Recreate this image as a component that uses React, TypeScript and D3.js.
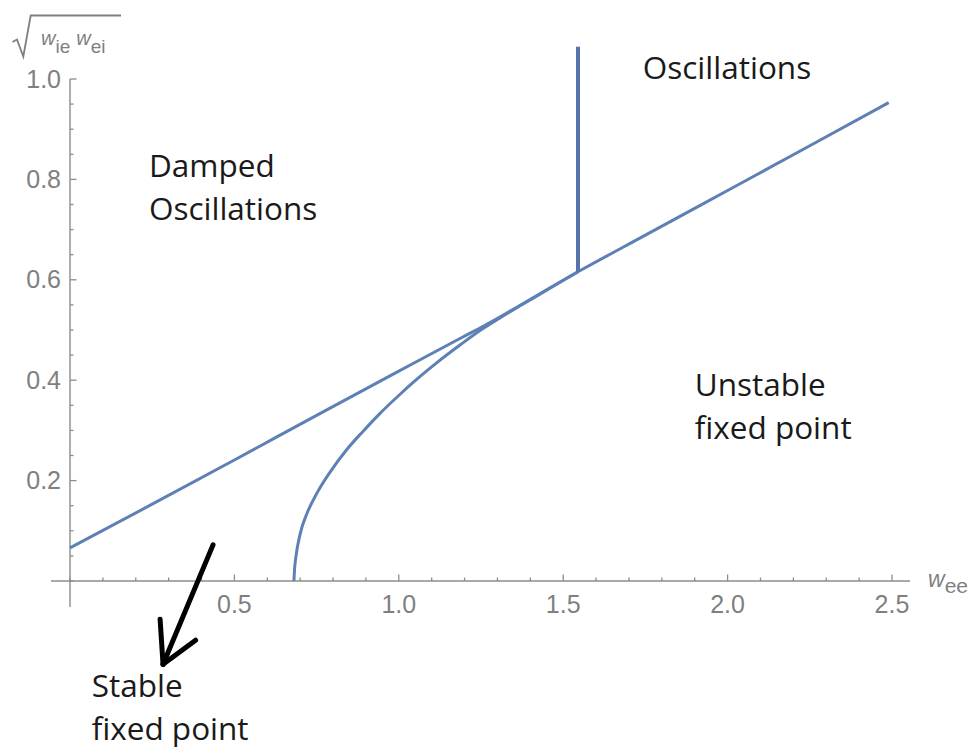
import React from "react";
import * as d3 from "d3";

// Upper boundary line (sqrt(wie*wei) vs wee)
const lineX = [0, 0.25, 0.5, 0.75, 1.0, 1.186, 1.247, 1.545, 1.75, 2.0, 2.25, 2.49];
const lineY = [0.066, 0.153, 0.241, 0.33, 0.418, 0.483, 0.504, 0.616, 0.689, 0.778, 0.867, 0.953];
// Lower curved boundary
const curveX = [0.681, 0.683, 0.687, 0.700, 0.721, 0.751, 0.791, 0.842, 0.891, 0.943, 1.004, 1.055, 1.116, 1.186, 1.247, 1.3, 1.35, 1.41, 1.47, 1.545];
const curveY = [0, 0.024, 0.048, 0.094, 0.135, 0.175, 0.217, 0.262, 0.298, 0.334, 0.372, 0.402, 0.435, 0.47, 0.499, 0.521, 0.541, 0.564, 0.587, 0.616];
// Vertical boundary
const vertX = [1.545, 1.545];
const vertY = [0.616, 1.064];

const xMajor = [0.5, 1.0, 1.5, 2.0, 2.5];
const xMinor = d3.range(0, 26).map((i) => i / 10);
const yMajor = [0.2, 0.4, 0.6, 0.8, 1.0];
const yMinor = d3.range(0, 21).map((i) => i / 20);

const regionLabels = [
  { lines: ["Oscillations"], x: 1.742, y: 1.0 },
  { lines: ["Damped", "Oscillations"], x: 0.24, y: 0.805 },
  { lines: ["Unstable", "fixed point"], x: 1.9, y: 0.3685 },
  { lines: ["Stable", "fixed point"], x: 0.066, y: -0.231 },
];

export default function App() {
  const x = d3.scaleLinear().domain([0, 2.5]).range([70, 892]);
  const y = d3.scaleLinear().domain([0, 1]).range([581, 79]);
  const blue = "#5E81B5";
  const axisC = "#8c8c8c";
  const tickC = "#7f7f7f";

  const lineGen = d3
    .line<[number, number]>()
    .x((d) => x(d[0]))
    .y((d) => y(d[1]))
    .curve(d3.curveMonotoneX);

  const upper = lineX.map((v, i) => [v, lineY[i]] as [number, number]);
  const lower = curveX.map((v, i) => [v, curveY[i]] as [number, number]);

  // arrow in data coordinates
  const tail = [0.435, 0.072];
  const tip = [0.283, -0.166];
  const headL = [0.274, -0.076];
  const headR = [0.382, -0.118];

  const textFont = "'Open Sans', 'Noto Sans', sans-serif";
  const sans = "'Liberation Sans', Arial, sans-serif";

  return (
    <svg
      width={974}
      height={751}
      style={{ position: "absolute", left: 0, top: 0, background: "#fff" }}
    >
      {/* axes */}
      <line x1={51} x2={910} y1={y(0)} y2={y(0)} stroke={axisC} strokeWidth={1.4} />
      <line x1={x(0)} x2={x(0)} y1={607} y2={y(1.0)} stroke={axisC} strokeWidth={1.4} />
      {xMinor.map((t) => (
        <line key={"xm" + t} x1={x(t)} x2={x(t)} y1={y(0)} y2={y(0) - (xMajor.includes(Math.round(t * 10) / 10) ? 6.5 : 3.5)} stroke={axisC} strokeWidth={1.3} />
      ))}
      {yMinor.map((t) => (
        <line key={"ym" + t} x1={x(0)} x2={x(0) + (yMajor.includes(Math.round(t * 100) / 100) ? 6.5 : 3.5)} y1={y(t)} y2={y(t)} stroke={axisC} strokeWidth={1.3} />
      ))}
      {xMajor.map((t) => (
        <text key={"xl" + t} x={x(t)} y={613} textAnchor="middle" fontFamily={sans} fontSize={25} fill={tickC}>
          {t.toFixed(1)}
        </text>
      ))}
      {yMajor.map((t) => (
        <text key={"yl" + t} x={61} y={y(t) + 8.5} textAnchor="end" fontFamily={sans} fontSize={25} fill={tickC}>
          {t.toFixed(1)}
        </text>
      ))}

      {/* axis labels */}
      <g fill={tickC} fontFamily={sans}>
        <text x={928} y={587} fontSize={23} fontStyle="italic">
          w
          <tspan fontStyle="normal" fontSize={21} dy={6}>ee</tspan>
        </text>
        <path d="M12.5,42 L17,39.5 L23.3,56.5 L30.7,15.5 L121,15.5" fill="none" stroke={tickC} strokeWidth={1.8} />
        <text x={41} y={45} fontSize={20} fontStyle="italic">
          w
          <tspan fontStyle="normal" fontSize={19} dy={8}>ie</tspan>
          <tspan fontStyle="italic" fontSize={20} dx={6} dy={-8}>w</tspan>
          <tspan fontStyle="normal" fontSize={19} dy={8}>ei</tspan>
        </text>
      </g>

      {/* boundaries */}
      <path d={lineGen(upper) || ""} fill="none" stroke={blue} strokeWidth={3} strokeLinejoin="round" />
      <path d={lineGen(lower) || ""} fill="none" stroke={blue} strokeWidth={3} strokeLinejoin="round" />
      <line x1={x(vertX[0])} x2={x(vertX[1])} y1={y(vertY[0])} y2={y(vertY[1])} stroke="#5474AA" strokeWidth={4} />

      {/* region labels */}
      {regionLabels.map((r, i) => (
        <text key={"r" + i} x={x(r.x)} y={y(r.y)} fontFamily={textFont} fontSize={31.5} fill="#1a1a1a">
          {r.lines.map((l, j) => (
            <tspan key={j} x={x(r.x)} dy={j === 0 ? 0 : 43}>{l}</tspan>
          ))}
        </text>
      ))}

      {/* arrow */}
      <g stroke="#000" strokeWidth={5} strokeLinecap="round" fill="none">
        <line x1={x(tail[0])} y1={y(tail[1])} x2={x(tip[0])} y2={y(tip[1])} />
        <line x1={x(headL[0])} y1={y(headL[1])} x2={x(tip[0])} y2={y(tip[1])} />
        <line x1={x(headR[0])} y1={y(headR[1])} x2={x(tip[0])} y2={y(tip[1])} />
      </g>
    </svg>
  );
}
